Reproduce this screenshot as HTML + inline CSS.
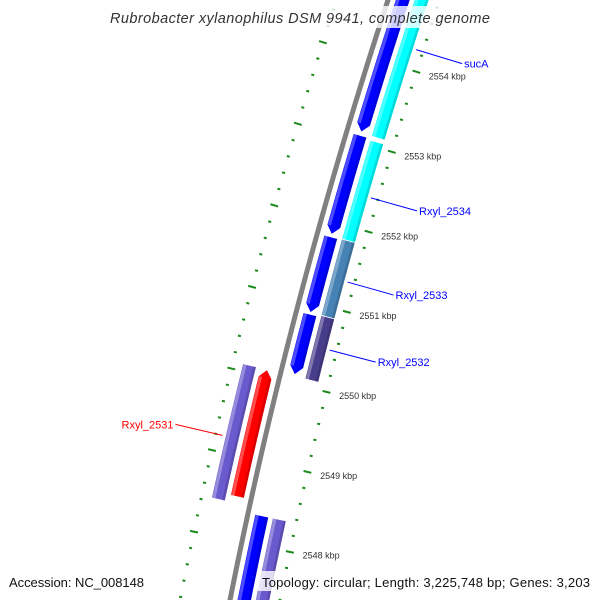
<!DOCTYPE html>
<html><head><meta charset="utf-8"><style>
html,body{margin:0;padding:0;background:#fff;overflow:hidden;width:600px;height:600px;}
svg{display:block;font-family:"Liberation Sans","DejaVu Sans",sans-serif;overflow:hidden;}
</style></head><body>
<svg id="map" width="600" height="600" viewBox="0 0 600 600" xmlns="http://www.w3.org/2000/svg">
<g id="g-ticks"></g>
<g id="g-back"></g>
<g id="g-feat"></g>
<g id="g-lab"></g>
<rect x="106" y="6" width="390" height="22" fill="#fff" fill-opacity="0.8"/>
<text x="110" y="23" textLength="380" lengthAdjust="spacing" font-size="14.5" font-style="italic" fill="#333">Rubrobacter xylanophilus DSM 9941, complete genome</text>
<rect x="3" y="571" width="150" height="20" fill="#fff" fill-opacity="0.8"/>
<text x="9" y="587" textLength="135" lengthAdjust="spacing" font-size="13" fill="#111">Accession: NC_008148</text>
<rect x="258" y="571" width="342" height="20" fill="#fff" fill-opacity="0.8"/>
<text x="262" y="587" textLength="328" lengthAdjust="spacing" font-size="13" fill="#111">Topology: circular; Length: 3,225,748 bp; Genes: 3,203</text>
</svg>
<script>
// data (kbp)
const majorTicks = [2548, 2549, 2550, 2551, 2552, 2553, 2554];
const tickLabels = ["2548 kbp","2549 kbp","2550 kbp","2551 kbp","2552 kbp","2553 kbp","2554 kbp"];
const featStart = [2553.12, 2551.85, 2550.88, 2550.11, 2546.5, 2553.11, 2551.83, 2550.88, 2550.09, 2548.44, 2548.52, 2546.5];
const featEnd   = [2556.5, 2553.08, 2551.82, 2550.86, 2548.36, 2556.5, 2553.06, 2551.83, 2550.88, 2550.09, 2550.09, 2548.36];
const featTrack = ["fwd1","fwd1","fwd1","fwd1","fwd1","fwd2","fwd2","fwd2","fwd2","rev2","rev1","fwd2"];
const featColor = ["#0000ff","#0000ff","#0000ff","#0000ff","#0000ff","#00ffff","#00ffff","#4682b4","#483d8b","#6a5acd","#ff0000","#6a5acd"];
const featArrow = ["down","down","down","down","none","none","none","none","none","none","up","none"];
const geneLabels = ["sucA","Rxyl_2534","Rxyl_2533","Rxyl_2532","Rxyl_2531"];
const geneLabelKbp = [2554.25, 2552.4, 2551.35, 2550.5, 2549.2];

// geometry helpers
const trackR = {fwd1:14, fwd2:32, rev1:-14, rev2:-32};
function bx(y){return 388 - 0.328*y + 1.078e-4*y*y;}
function Y(k){return 57+(2554-k)*80.8;}
function P(k,r){const y=Y(k);const x=bx(y);const d=-0.328+2*1.078e-4*y;const n=Math.sqrt(1+d*d);return [x+r/n, y-r*d/n];}
const NS="http://www.w3.org/2000/svg";
function el(t,a,p){const e=document.createElementNS(NS,t);for(const k in a)e.setAttribute(k,a[k]);p.appendChild(e);return e;}
const gT=document.getElementById('g-ticks'),gB=document.getElementById('g-back'),gF=document.getElementById('g-feat'),gL=document.getElementById('g-lab');

// backbone
let pts=[];for(let k=2546.5;k<=2556.5;k+=0.05){pts.push(P(k,0).join(','));}
const bb=el('polyline',{points:pts.join(' '),fill:'none',stroke:'#808080','stroke-width':5},gB);



// ticks
function tick(k,r,len,w,name){const a=P(k,r-len/2),b=P(k,r+len/2);const t=el('line',{x1:a[0],y1:a[1],x2:b[0],y2:b[1],stroke:'#1a8a1a','stroke-width':w},gT);

}
for(let m=2546;m<=2556;m++){for(let j=0;j<5;j++){const k=m+j*0.2;const maj=j==0;
tick(k,49,maj?8:3,2,maj?'major-tick-inner':'minor-tick-inner');
tick(k,-49,maj?8:3,2,maj?'major-tick-outer':'minor-tick-outer');}}
majorTicks.forEach((k,i)=>{const p=P(k,62);const t=el('text',{x:p[0],y:p[1]+4,'font-size':9,fill:'#333'},gT);t.textContent=tickLabels[i];

});

// features
const W=14,AL=0.1;
featStart.forEach((s,i)=>{const e=featEnd[i],r=trackR[featTrack[i]],ar=featArrow[i];
let lo=s,hi=e;if(ar=='down')lo=s+AL;if(ar=='up')hi=e-AL;
const L=[],R=[];const step=(hi-lo)/20;
for(let k=lo;k<=hi+1e-9;k+=step){L.push(P(k,r-W/2));R.push(P(k,r+W/2));}
let poly=[];
if(ar=='down')poly.push(P(s,r));
poly=poly.concat(L);
if(ar=='up')poly.push(P(e,r));
poly=poly.concat(R.reverse());
const f=el('polygon',{points:poly.map(p=>p.join(',')).join(' '),fill:featColor[i],stroke:'#fff','stroke-width':0.8},gF);


const H=[];for(let k=lo;k<=hi+1e-9;k+=step){H.push(P(k,r-W/2+0.8));}
const H2=[];for(let k=lo;k<=hi+1e-9;k+=step){H2.push(P(k,r-W/2+4));}
const h=el('polygon',{points:H.concat(H2.reverse()).map(p=>p.join(',')).join(' '),fill:'#fff','fill-opacity':0.3},gF);


const D=[];for(let k=lo;k<=hi+1e-9;k+=step){D.push(P(k,r+W/2-3));}
const D2=[];for(let k=lo;k<=hi+1e-9;k+=step){D2.push(P(k,r+W/2-0.5));}
const dd=el('polygon',{points:D.concat(D2.reverse()).map(p=>p.join(',')).join(' '),fill:'#000','fill-opacity':0.15},gF);


});

// gene labels
const labOff=[[46,14],[46,13],[46,13],[46,12],[-47,-11]];
const labColor=["#0000ff","#0000ff","#0000ff","#0000ff","#ff0000"];
geneLabels.forEach((n,i)=>{const k=geneLabelKbp[i];const side=i<4?1:-1;const a=P(k,side*42);const b=[a[0]+labOff[i][0],a[1]+labOff[i][1]];
const l=el('line',{x1:a[0],y1:a[1],x2:b[0],y2:b[1],stroke:labColor[i],'stroke-width':1},gL);


const t=el('text',{x:side>0?b[0]+2:b[0]-2,y:b[1]+4,'font-size':11,fill:labColor[i],'text-anchor':side>0?'start':'end'},gL);t.textContent=n;

});
</script>
</body></html>
